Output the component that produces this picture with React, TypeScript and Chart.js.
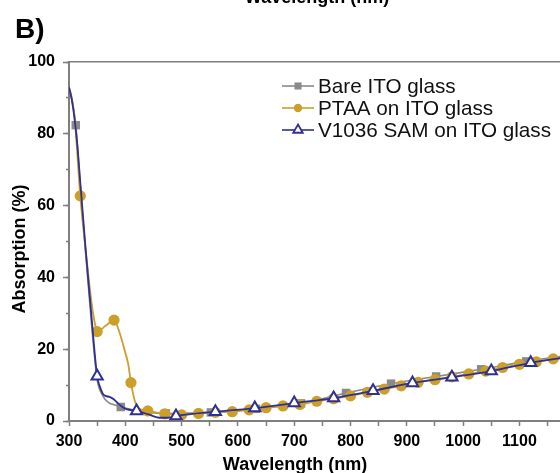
import React, { useEffect, useRef } from 'react';
import { Chart, registerables } from 'chart.js';

Chart.register(...registerables);

// ---------- data ----------
const seriesNames = ['Bare ITO glass', 'PTAA on ITO glass', 'V1036 SAM on ITO glass'];

// Bare ITO glass: markers every 80 nm
const bareMarkerNm = [312, 392, 472, 552, 632, 712, 792, 872, 952, 1032, 1112, 1192];
const bareMarkerVal = [82.4, 3.9, 2.1, 2.4, 3.4, 4.9, 7.8, 10.4, 12.4, 14.4, 16.6, 18.4];
// extra curve samples between markers
const bareCurveNm = [300, 305, 320, 330, 340, 350, 360, 370, 380, 420, 440];
const bareCurveVal = [92.5, 89.5, 65.5, 46, 27, 11.5, 7.0, 5.2, 4.5, 2.9, 2.4];

// PTAA on ITO glass: markers every 30 nm
const ptaaMarkerNm = [320, 350, 380, 410, 440, 470, 500, 530, 560, 590, 620, 650, 680, 710, 740, 770, 800, 830, 860, 890, 920, 950, 980, 1010, 1040, 1070, 1100, 1130, 1160, 1190];
const ptaaMarkerVal = [62.7, 24.9, 28.1, 10.7, 2.8, 2.0, 1.7, 2.1, 2.4, 2.6, 3.1, 3.7, 4.2, 4.6, 5.5, 6.2, 7.0, 8.0, 8.9, 9.8, 10.8, 11.5, 12.3, 13.1, 13.9, 14.9, 15.8, 16.5, 17.3, 18.2];
const ptaaCurveNm = [300, 305, 310, 330, 340, 345, 365, 390, 400, 405, 418, 425];
const ptaaCurveVal = [93, 90, 84.5, 47, 33, 28, 26.5, 24.5, 19, 16, 5.0, 3.4];

// V1036 SAM on ITO glass: markers every 70 nm
const samMarkerNm = [350, 420, 490, 560, 630, 700, 770, 840, 910, 980, 1050, 1120, 1190];
const samMarkerVal = [12.5, 2.8, 1.4, 2.6, 3.6, 5.0, 6.4, 8.4, 10.6, 12.2, 13.9, 16.2, 17.9];
const samCurveNm = [300, 305, 310, 315, 320, 330, 340, 355, 360, 365, 372, 380, 387, 395, 402, 440, 460, 475];
const samCurveVal = [93, 89.5, 84, 76.5, 66.5, 47, 29, 9.5, 7.6, 7.0, 6.7, 6.0, 4.9, 3.9, 3.3, 1.9, 0.9, 0.9];

// axes
const xMin = 300;
const xMax = 1172;
const xTickStep = 50;
const xLabelStep = 100;
const yMin = 0;
const yMax = 100;
const yMajorStep = 20;
const yMinorStep = 10;

const xTitle = 'Wavelength (nm)';
const yTitle = 'Absorption (%)';
const panelLabel = 'B)';

// ---------- styles ----------
const FONT = "'Liberation Sans', Arial, Helvetica, sans-serif";
const AXIS = '#7f7f7f';
const GRAY = '#8a8a8a';
const GOLD = '#cc9f2a';
const NAVY = '#2e3192';

function pts(nm: number[], v: number[]) {
  return nm.map((x, i) => ({ x, y: v[i] }));
}
function merged(aNm: number[], aV: number[], bNm: number[], bV: number[]) {
  return [...pts(aNm, aV), ...pts(bNm, bV)].sort((p, q) => p.x - q.x);
}

function drawMarker(ctx: CanvasRenderingContext2D, kind: string, x: number, y: number, r: number, color: string) {
  ctx.save();
  ctx.beginPath();
  if (kind === 'rect') {
    const s = r * Math.SQRT1_2;
    ctx.rect(x - s, y - s, 2 * s, 2 * s);
    ctx.fillStyle = color;
    ctx.fill();
  } else if (kind === 'circle') {
    ctx.arc(x, y, r, 0, Math.PI * 2);
    ctx.fillStyle = color;
    ctx.fill();
  } else {
    for (let k = 0; k < 3; k++) {
      const a = (k * 2 * Math.PI) / 3;
      const px = x + Math.sin(a) * r;
      const py = y - Math.cos(a) * r;
      if (k === 0) ctx.moveTo(px, py);
      else ctx.lineTo(px, py);
    }
    ctx.closePath();
    ctx.fillStyle = '#ffffff';
    ctx.fill();
    ctx.lineWidth = 1.8;
    ctx.strokeStyle = color;
    ctx.stroke();
  }
  ctx.restore();
}

const legendPlugin = {
  id: 'customLegend',
  afterDatasetsDraw(chart: any) {
    const ctx: CanvasRenderingContext2D = chart.ctx;
    const entries = [
      { name: seriesNames[0], color: GRAY, kind: 'rect', r: 5 },
      { name: seriesNames[1], color: GOLD, kind: 'circle', r: 4.2 },
      { name: seriesNames[2], color: NAVY, kind: 'triangle', r: 5.5 },
    ];
    const x1 = 282;
    const x2 = 314;
    const xm = 298;
    const xt = 318;
    const rows = [86, 108, 130];
    entries.forEach((e, i) => {
      const y = rows[i];
      ctx.save();
      ctx.beginPath();
      ctx.moveTo(x1, y);
      ctx.lineTo(x2, y);
      ctx.lineWidth = 1.6;
      ctx.strokeStyle = e.color;
      ctx.stroke();
      ctx.restore();
      drawMarker(ctx, e.kind, xm, y, e.r, e.color);
      ctx.save();
      ctx.fillStyle = '#111111';
      ctx.font = `20.7px ${FONT}`;
      ctx.textBaseline = 'middle';
      ctx.textAlign = 'left';
      ctx.fillText(e.name, xt, y + 1);
      ctx.restore();
    });
  },
};

const textBase: React.CSSProperties = {
  position: 'absolute',
  fontFamily: FONT,
  fontWeight: 'bold',
  color: '#000',
  whiteSpace: 'nowrap',
  textAlign: 'center',
};

export default function App() {
  const ref = useRef<HTMLCanvasElement | null>(null);

  useEffect(() => {
    if (!ref.current) return;
    const tickFont = { family: FONT, size: 16, weight: 'bold' as const };
    const chart = new Chart(ref.current, {
      type: 'line',
      data: {
        datasets: [
          {
            label: seriesNames[2] + ' markers',
            data: pts(samMarkerNm, samMarkerVal),
            showLine: false,
            pointStyle: 'triangle',
            pointRadius: 6.5,
            pointBorderWidth: 2,
            pointBorderColor: NAVY,
            pointBackgroundColor: '#ffffff',
            xAxisID: 'x',
            yAxisID: 'y',
          },
          {
            label: seriesNames[2],
            data: merged(samMarkerNm, samMarkerVal, samCurveNm, samCurveVal),
            borderColor: NAVY,
            borderWidth: 1.8,
            pointRadius: 0,
            cubicInterpolationMode: 'monotone',
            xAxisID: 'x',
            yAxisID: 'y',
          },
          {
            label: seriesNames[1] + ' markers',
            data: pts(ptaaMarkerNm, ptaaMarkerVal),
            showLine: false,
            pointStyle: 'circle',
            pointRadius: 5.6,
            pointBorderWidth: 0,
            pointBackgroundColor: GOLD,
            xAxisID: 'x',
            yAxisID: 'y',
          },
          {
            label: seriesNames[1],
            data: merged(ptaaMarkerNm, ptaaMarkerVal, ptaaCurveNm, ptaaCurveVal),
            borderColor: GOLD,
            borderWidth: 1.8,
            pointRadius: 0,
            cubicInterpolationMode: 'monotone',
            xAxisID: 'x',
            yAxisID: 'y',
          },
          {
            label: seriesNames[0] + ' markers',
            data: pts(bareMarkerNm, bareMarkerVal),
            showLine: false,
            pointStyle: 'rect',
            pointRadius: 6,
            pointBorderWidth: 0,
            pointBackgroundColor: GRAY,
            xAxisID: 'x',
            yAxisID: 'y',
          },
          {
            label: seriesNames[0],
            data: merged(bareMarkerNm, bareMarkerVal, bareCurveNm, bareCurveVal),
            borderColor: GRAY,
            borderWidth: 1.6,
            pointRadius: 0,
            cubicInterpolationMode: 'monotone',
            xAxisID: 'x',
            yAxisID: 'y',
          },
        ],
      },
      options: {
        animation: false,
        responsive: false,
        devicePixelRatio: 1,
        layout: { padding: 0, autoPadding: false },
        plugins: {
          legend: { display: false },
          tooltip: { enabled: false },
        },
        scales: {
          x: {
            type: 'linear',
            position: 'bottom',
            min: xMin,
            max: xMax,
            ticks: {
              stepSize: xTickStep,
              includeBounds: false,
              autoSkip: false,
              maxRotation: 0,
              padding: 6,
              color: '#000000',
              font: tickFont,
              callback: (v: any) => (Number(v) % xLabelStep === 0 ? String(v) : ''),
            },
            grid: { drawOnChartArea: false, drawTicks: true, tickLength: 5, tickColor: AXIS, tickWidth: 1.5 },
            border: { color: AXIS, width: 2 },
            afterFit: (s: any) => {
              s.height = 52;
              s.paddingLeft = 0;
              s.paddingRight = 0;
            },
          },
          xTop: {
            type: 'linear',
            position: 'top',
            min: xMin,
            max: xMax,
            ticks: { display: false },
            grid: { display: false },
            border: { display: true, color: AXIS, width: 1.5 },
            afterFit: (s: any) => {
              s.height = 62;
              s.paddingLeft = 0;
              s.paddingRight = 0;
            },
          },
          y: {
            type: 'linear',
            position: 'left',
            weight: 1,
            min: yMin,
            max: yMax,
            ticks: {
              stepSize: yMajorStep,
              padding: 8,
              color: '#000000',
              font: tickFont,
              callback: (v: any) => String(v),
            },
            grid: { drawOnChartArea: false, drawTicks: true, tickLength: 6, tickColor: AXIS, tickWidth: 1.5 },
            border: { color: AXIS, width: 2 },
            afterFit: (s: any) => {
              s.width = 69;
            },
          },
          yMinor: {
            type: 'linear',
            position: 'left',
            weight: 0,
            min: yMin,
            max: yMax,
            ticks: {
              stepSize: yMinorStep,
              padding: 0,
              font: { size: 1 },
              callback: () => '',
            },
            grid: { drawOnChartArea: false, drawTicks: true, tickLength: 3, tickColor: AXIS, tickWidth: 1.5 },
            border: { display: false },
            afterFit: (s: any) => {
              s.width = 0;
            },
          },
        },
      } as any,
      plugins: [legendPlugin],
    });
    return () => chart.destroy();
  }, []);

  return (
    <div style={{ position: 'absolute', left: 0, top: 0, width: 560, height: 473, overflow: 'hidden', background: '#ffffff' }}>
      <canvas ref={ref} width={560} height={473} style={{ position: 'absolute', left: 0, top: 0, width: 560, height: 473 }} />
      {/* cut-off title of the panel above */}
      <div style={{ ...textBase, left: 217, top: -12, width: 200, fontSize: 18, lineHeight: '18px' }}>{xTitle}</div>
      {/* panel label */}
      <div style={{ ...textBase, left: 15, top: 15, textAlign: 'left', fontSize: 28, lineHeight: '28px' }}>{panelLabel}</div>
      {/* x axis title */}
      <div style={{ ...textBase, left: 195, top: 455, width: 200, fontSize: 18, lineHeight: '18px' }}>{xTitle}</div>
      {/* y axis title */}
      <div
        style={{
          ...textBase,
          left: 19 - 100,
          top: 249 - 9,
          width: 200,
          fontSize: 18,
          lineHeight: '18px',
          transform: 'rotate(-90deg)',
          transformOrigin: '50% 50%',
        }}
      >
        {yTitle}
      </div>
    </div>
  );
}
